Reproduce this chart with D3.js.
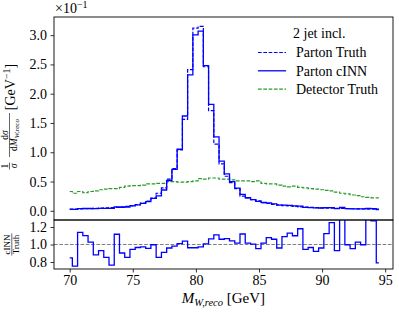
<!DOCTYPE html>
<html><head><meta charset="utf-8">
<script src="https://cdn.jsdelivr.net/npm/d3@7"></script>
<style>
body{margin:0;background:#fff}
svg{display:block}
text{font-family:"Liberation Serif","DejaVu Serif",serif;fill:#000}
</style>
</head><body>
<svg id="chart" width="399" height="313"></svg>
<script>
// ---- data ----
const mass = [70.00,70.42,70.83,71.25,71.66,72.08,72.49,72.91,73.32,73.74,74.15,74.57,74.98,75.40,75.81,76.23,76.64,77.06,77.48,77.89,
  78.31,78.72,79.14,79.55,79.97,80.38,80.80,81.21,81.63,82.04,82.46,82.87,83.29,83.70,84.12,84.54,84.95,85.37,85.78,86.20,
  86.61,87.03,87.44,87.86,88.27,88.69,89.10,89.52,89.93,90.35,90.77,91.18,91.60,92.01,92.43,92.84,93.26,93.67,94.09,94.50];
const partonTruth = [0.029,0.031,0.033,0.035,0.038,0.041,0.045,0.049,0.054,0.060,0.067,0.076,0.088,0.105,0.130,0.165,0.215,0.300,0.390,0.540,
  0.720,1.040,1.560,2.410,3.120,3.150,2.460,1.710,1.140,0.800,0.590,0.480,0.380,0.250,0.220,0.190,0.170,0.140,0.125,0.110,
  0.100,0.090,0.082,0.075,0.068,0.062,0.058,0.054,0.050,0.047,0.044,0.041,0.039,0.037,0.035,0.033,0.032,0.030,0.029,0.028];
const partonCINN = [0.025,0.023,0.038,0.039,0.039,0.036,0.042,0.042,0.041,0.067,0.061,0.065,0.083,0.101,0.127,0.158,0.214,0.256,0.355,0.518,
  0.707,1.051,1.619,2.321,3.005,3.068,2.480,1.819,1.264,0.848,0.630,0.500,0.386,0.280,0.223,0.191,0.162,0.142,0.135,0.117,
  0.096,0.098,0.093,0.083,0.080,0.059,0.056,0.050,0.048,0.053,0.055,0.038,0.057,0.037,0.033,0.034,0.032,0.042,0.037,0.022];
const detectorTruth = [0.33,0.30,0.33,0.31,0.33,0.34,0.36,0.37,0.38,0.38,0.40,0.42,0.43,0.43,0.44,0.46,0.46,0.47,0.47,0.50,
  0.50,0.49,0.49,0.50,0.51,0.55,0.54,0.56,0.56,0.54,0.54,0.53,0.51,0.51,0.51,0.50,0.51,0.47,0.46,0.46,
  0.44,0.42,0.41,0.42,0.40,0.39,0.38,0.37,0.36,0.35,0.34,0.32,0.30,0.29,0.27,0.26,0.24,0.23,0.22,0.22];
const ratio = [0.847,0.753,1.139,1.101,1.027,0.881,0.929,0.854,0.764,1.117,0.903,0.854,0.944,0.966,0.974,0.955,0.997,0.854,0.910,0.960,
  0.982,1.011,1.038,0.963,0.963,0.974,1.008,1.064,1.109,1.060,1.068,1.042,1.015,1.120,1.015,1.004,0.952,1.015,1.079,1.060,
  0.960,1.090,1.130,1.100,1.180,0.944,0.966,0.921,0.960,1.124,1.250,0.929,1.450,0.997,0.952,1.027,0.997,1.400,1.270,0.790];
const mainYTicks = [0.0,0.5,1.0,1.5,2.0,2.5,3.0];
const ratioYTicks = [0.8,1.0,1.2];
const xTicks = [70,75,80,85,90,95];
const legendTitle = "2 jet incl.";
const seriesNames = ["Parton Truth","Parton cINN","Detector Truth"];

// ---- layout ----
const svg = d3.select("#chart");
const L = 54, R = 393, T = 17, MB = 220, RB = 269;
const BLUE = "#0000ff", GREEN = "#2a9a2a";
const FONT = '"Liberation Serif","DejaVu Serif",serif';

const x = d3.scaleLinear().domain([68.756, 95.62]).range([L, R]);
const yMain = d3.scaleLinear().domain([-0.157, 3.31]).range([MB, T]);
const yRat = d3.scaleLinear().domain([0.72, 1.28]).range([RB, MB]);

const defs = svg.append("defs");
defs.append("clipPath").attr("id","clipMain").append("rect").attr("x",L).attr("y",T).attr("width",R-L).attr("height",MB-T);
defs.append("clipPath").attr("id","clipRat").append("rect").attr("x",L).attr("y",MB).attr("width",R-L).attr("height",RB-MB);

const lineMain = arr => d3.line().curve(d3.curveStep).x((d,i)=>x(mass[i])).y(d=>yMain(d))(arr);
const lineRat = d3.line().curve(d3.curveStep).x((d,i)=>x(mass[i])).y(d=>yRat(d));

const gMain = svg.append("g").attr("clip-path","url(#clipMain)");
gMain.append("path").attr("d", lineMain(detectorTruth)).attr("fill","none").attr("stroke",GREEN).attr("stroke-width",1.2).attr("stroke-dasharray","3.7,1.6");
gMain.append("path").attr("d", lineMain(partonCINN)).attr("fill","none").attr("stroke",BLUE).attr("stroke-width",1.3);
gMain.append("path").attr("d", lineMain(partonTruth)).attr("fill","none").attr("stroke",BLUE).attr("stroke-width",1.2).attr("stroke-dasharray","3.7,1.6");

const gRat = svg.append("g").attr("clip-path","url(#clipRat)");
gRat.append("line").attr("x1",L).attr("x2",R).attr("y1",yRat(1)).attr("y2",yRat(1))
  .attr("stroke","#808080").attr("stroke-width",1).attr("stroke-dasharray","3.7,1.6");
gRat.append("path").attr("d", lineRat(ratio)).attr("fill","none").attr("stroke",BLUE).attr("stroke-width",1.3);

// ---- axes ----
function styleAxis(g){
  g.select(".domain").remove();
  g.selectAll(".tick line").attr("stroke","#000").attr("stroke-width",0.8);
  g.selectAll(".tick text").attr("font-size",14).attr("font-family",FONT).attr("fill","#222");
}
svg.append("g").attr("transform",`translate(${L},0)`)
  .call(d3.axisLeft(yMain).tickValues(mainYTicks).tickFormat(d3.format(".1f")).tickSize(3.5).tickPadding(3.5))
  .call(styleAxis);
svg.append("g").attr("transform",`translate(${L},0)`)
  .call(d3.axisLeft(yRat).tickValues(ratioYTicks).tickFormat(d3.format(".1f")).tickSize(3.5).tickPadding(3.5))
  .call(styleAxis);
svg.append("g").attr("transform",`translate(0,${RB})`)
  .call(d3.axisBottom(x).tickValues(xTicks).tickFormat(d3.format("d")).tickSize(3.5).tickPadding(3))
  .call(styleAxis);

// frames
svg.append("rect").attr("x",L).attr("y",T).attr("width",R-L).attr("height",MB-T).attr("fill","none").attr("stroke","#000").attr("stroke-width",0.9);
svg.append("rect").attr("x",L).attr("y",MB).attr("width",R-L).attr("height",RB-MB).attr("fill","none").attr("stroke","#000").attr("stroke-width",0.9);

// offset text
const off = svg.append("text").attr("x",L+1).attr("y",13).attr("font-size",14).attr("fill","#222");
off.append("tspan").text("×10");
off.append("tspan").attr("dy",-5).attr("font-size",10).text("−1");

// x label
const xl = svg.append("text").attr("x",(L+R)/2).attr("y",303).attr("text-anchor","middle").attr("font-size",15).attr("fill","#222");
xl.append("tspan").attr("font-style","italic").text("M");
xl.append("tspan").attr("font-style","italic").attr("font-size",10.5).attr("dy",3).text("W,reco");
xl.append("tspan").attr("dy",-3).text(" [GeV]");

// main y label (rotated)
(function(){
  const g = svg.append("g").attr("transform",`translate(9.5,166) rotate(-90)`);
  g.append("text").attr("x",0).attr("y",-2).attr("text-anchor","middle").attr("font-size",9.5).text("1");
  g.append("line").attr("x1",-3.5).attr("x2",3.5).attr("y1",0).attr("y2",0).attr("stroke","#000").attr("stroke-width",0.6);
  g.append("text").attr("x",0).attr("y",7).attr("text-anchor","middle").attr("font-size",9.5).attr("font-style","italic").text("σ");
})();
(function(){
  const g = svg.append("g").attr("transform",`translate(9.5,135) rotate(-90)`);
  const n = g.append("text").attr("x",0).attr("y",-2).attr("text-anchor","middle").attr("font-size",9.5);
  n.append("tspan").text("d"); n.append("tspan").attr("font-style","italic").text("σ");
  g.append("line").attr("x1",-22).attr("x2",22).attr("y1",0).attr("y2",0).attr("stroke","#000").attr("stroke-width",0.6);
  const t = g.append("text").attr("x",0).attr("y",7.5).attr("text-anchor","middle").attr("font-size",9.5);
  t.append("tspan").text("d");
  t.append("tspan").attr("font-style","italic").text("M");
  t.append("tspan").attr("font-style","italic").attr("font-size",7).attr("dy",1.8).text("W,reco");
})();
(function(){
  const g = svg.append("g").attr("transform",`translate(15,87) rotate(-90)`);
  const t = g.append("text").attr("x",0).attr("y",0).attr("text-anchor","middle").attr("font-size",14).attr("fill","#222");
  t.append("tspan").text("[GeV");
  t.append("tspan").attr("dy",-5).attr("font-size",10).text("−1");
  t.append("tspan").attr("dy",5).text("]");
})();

// ratio y label
(function(){
  const g = svg.append("g").attr("transform",`translate(11.8,${(MB+RB)/2}) rotate(-90)`);
  g.append("text").attr("x",0).attr("y",-1.8).attr("text-anchor","middle").attr("font-size",9).text("cINN");
  g.append("line").attr("x1",-11).attr("x2",11).attr("y1",0).attr("y2",0).attr("stroke","#000").attr("stroke-width",0.6);
  g.append("text").attr("x",0).attr("y",7.2).attr("text-anchor","middle").attr("font-size",9).text("Truth");
})();

// legend
svg.append("text").attr("x",293).attr("y",38).attr("font-size",14).attr("fill","#222").text(legendTitle);
const legStyles = [
  {c:BLUE, dash:"3.7,1.6", w:1.2},
  {c:BLUE, dash:null, w:1.3},
  {c:GREEN, dash:"3.7,1.6", w:1.2}
];
seriesNames.forEach((name,i)=>{
  const yy = 52.5 + i*18.3;
  const ln = svg.append("line").attr("x1",258).attr("x2",286).attr("y1",yy).attr("y2",yy)
    .attr("stroke",legStyles[i].c).attr("stroke-width",legStyles[i].w);
  if (legStyles[i].dash) ln.attr("stroke-dasharray",legStyles[i].dash);
  svg.append("text").attr("x",296).attr("y",yy+4.8).attr("font-size",14).attr("fill","#222").text(name);
});
</script>
</body></html>
